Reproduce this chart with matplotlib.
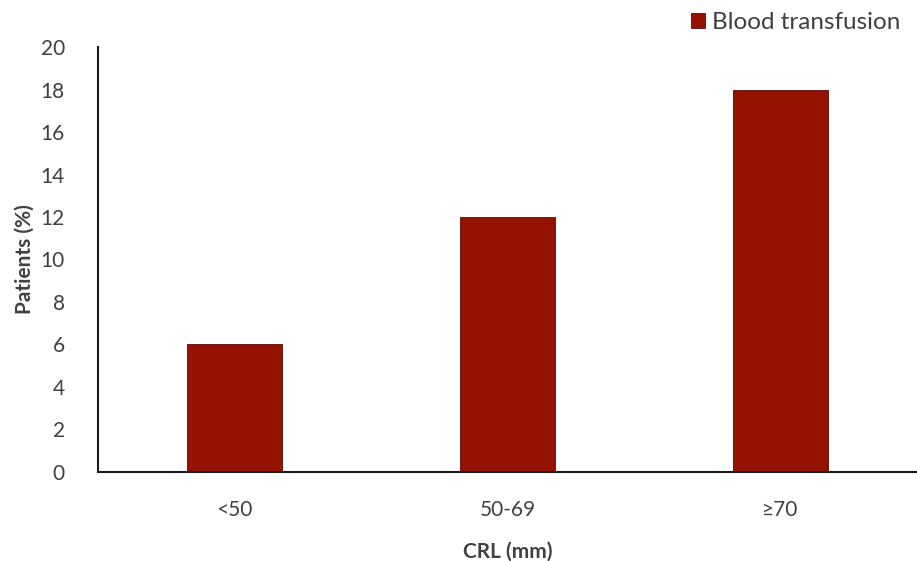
import matplotlib.pyplot as plt
import numpy as np

categories = ['<50', '50-69', '≥70']
values = [6, 12, 18]
series_name = 'Blood transfusion'

plt.rcParams['font.family'] = ['Lato', 'DejaVu Sans']
text_col = '#404040'
bar_col = '#961200'

fig = plt.figure(figsize=(9.17, 5.61), dpi=100)
ax = fig.add_axes([0.107, 0.159, 0.893, 0.757])

x = np.arange(len(categories))
ax.bar(x, values, width=0.35, color=bar_col, edgecolor='#5a0a00', linewidth=0.6,
       label=series_name)

ax.set_xlim(-0.5, 2.5)
ax.set_ylim(0, 20)
ax.set_yticks(np.arange(0, 21, 2))
ax.set_xticks(x)
ax.set_xticklabels(categories)
ax.tick_params(axis='both', length=0, labelsize=15, colors=text_col)
ax.tick_params(axis='x', pad=20)
ax.tick_params(axis='y', pad=24)

for s in ['top', 'right']:
    ax.spines[s].set_visible(False)
for s in ['left', 'bottom']:
    ax.spines[s].set_color('#1a1a1a')
    ax.spines[s].set_linewidth(1.5)

ax.set_xlabel('CRL (mm)', fontsize=15, fontweight='bold', color=text_col, labelpad=16)
ax.set_ylabel('Patients (%)', fontsize=15, fontweight='bold', color=text_col, labelpad=4)

leg = fig.legend(loc='upper right', bbox_to_anchor=(0.995, 1.0), frameon=False,
                 fontsize=17.5, handlelength=0.55, handleheight=0.55, handletextpad=0.3,
                 borderaxespad=0.1)
for t in leg.get_texts():
    t.set_color(text_col)

fig.savefig('out.png', dpi=100)
